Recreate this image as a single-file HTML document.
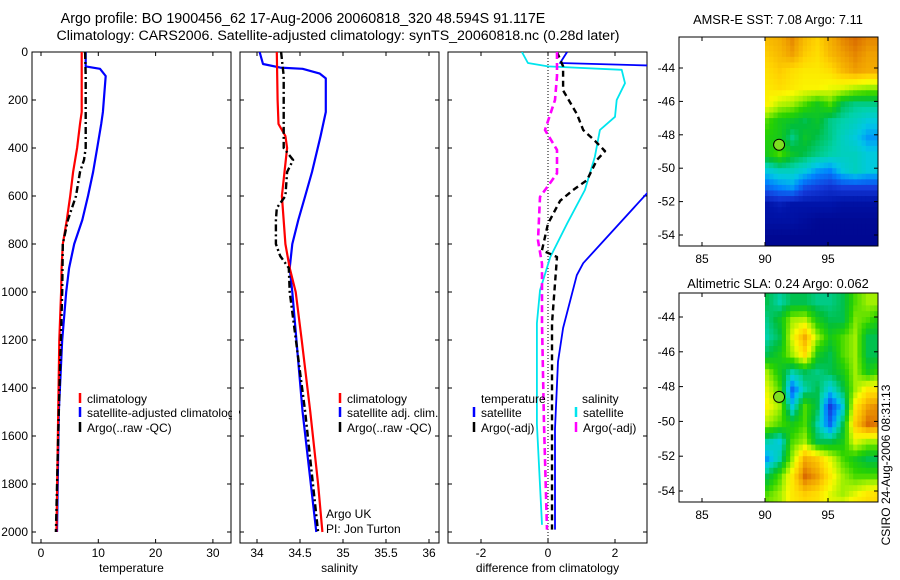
<!DOCTYPE html>
<html><head><meta charset="utf-8"><style>
body{margin:0;background:#fff}
svg{display:block;font-family:"Liberation Sans",sans-serif}
text{fill:#000}
</style></head><body>
<svg id="c" width="900" height="580" xmlns="http://www.w3.org/2000/svg">
<text x="303" y="23" font-size="14.3" text-anchor="middle">Argo profile: BO 1900456_62 17-Aug-2006 20060818_320 48.594S 91.117E</text>
<text x="338" y="40" font-size="14.2" text-anchor="middle">Climatology: CARS2006. Satellite-adjusted climatology: synTS_20060818.nc (0.28d later)</text>
<text x="778" y="24" font-size="12.8" text-anchor="middle">AMSR-E SST: 7.08 Argo: 7.11</text>
<text x="778" y="288" font-size="12.8" text-anchor="middle">Altimetric SLA: 0.24 Argo: 0.062</text>
<text transform="translate(890,465) rotate(-90)" font-size="12" text-anchor="middle">CSIRO 24-Aug-2006 08:31:13</text>
<g id="g"></g>
</svg>
<script>
// ---- data ----
const tDepth=[0,60,70,100,250,300,400,500,600,700,800,900,1000,1200,1500,2000];
const tClim=[7.1,7.1,7.1,7.1,7.1,6.8,6.3,5.6,5.1,4.5,3.8,3.6,3.5,3.2,3.0,2.7];
const tSat=[7.8,7.8,10.3,11.3,10.8,10.5,9.8,9.1,8.2,7.2,5.8,4.9,4.4,3.7,3.1,2.8];
const argoDepth=[0,100,400,450,500,600,700,800,1000,1500,2000];
const tArgo=[7.7,7.8,7.8,7.5,6.8,6.1,4.7,3.8,3.7,3.1,2.6];
const sDepth=[0,200,300,350,400,600,800,900,1000,1200,1500,1800,2000];
const sClim=[34.23,34.24,34.25,34.33,34.35,34.29,34.33,34.38,34.45,34.52,34.62,34.71,34.76];
const sArgoDepth=[0,100,400,450,500,600,650,700,800,850,900,1000,1500,2000];
const sArgo=[34.28,34.31,34.31,34.42,34.35,34.33,34.23,34.22,34.22,34.27,34.37,34.38,34.56,34.71];
const sSatDepth=[0,50,65,70,90,110,250,350,500,600,700,800,900,1000,1500,2000];
const sSat=[34.03,34.07,34.27,34.53,34.73,34.8,34.8,34.74,34.64,34.56,34.48,34.41,34.38,34.41,34.53,34.69];
const dTSatDepth=[0,46,60,100,400,588,880,930,1150,1290,1570,1990];
const dTSat=[0.57,0.36,4.0,4.2,3.6,2.96,1.05,0.86,0.45,0.3,0.21,0.21];
const dSSatDepth=[0,46,60,74,130,200,270,325,436,575,715,854,993,1130,1550,1970];
const dSSat=[-0.78,-0.6,0,2.2,2.3,2.05,2.0,1.55,1.4,1.1,0.57,0.07,-0.24,-0.33,-0.33,-0.18];
const dTArgoDepth=[0,60,160,260,325,370,413,450,534,575,620,715,826,854,1130,1990];
const dTArgo=[0.27,0.45,0.45,0.87,1.05,1.4,1.7,1.46,1.16,0.75,0.36,0,-0.18,0.27,0.12,0.12];
const dSArgoDepth=[0,100,200,325,408,506,604,785,882,1130,1550,1990];
const dSArgo=[0.27,0.27,0.21,-0.09,0.27,0.27,-0.24,-0.3,-0.18,-0.18,-0.12,-0.03];
const depthTicks=[0,200,400,600,800,1000,1200,1400,1600,1800,2000];
const tTicks=[0,10,20,30];
const sTicks=[34,34.5,35,35.5,36];
const dTicks=[-2,0,2];
const latTicks=[-44,-46,-48,-50,-52,-54];
const lonTicks=[85,90,95];
const mapLon=[90,91,92,93,94,95,96,97,98,99];
const mapLat=[-42,-43,-44,-45,-46,-47,-48,-49,-50,-51,-52,-53,-54,-55];
const sstGrid=[
[0.78,0.8,0.85,0.78,0.74,0.8,0.85,0.88,0.85,0.85],
[0.75,0.78,0.82,0.75,0.72,0.78,0.82,0.85,0.82,0.82],
[0.72,0.75,0.72,0.7,0.7,0.72,0.78,0.82,0.8,0.8],
[0.7,0.72,0.7,0.68,0.68,0.66,0.65,0.62,0.6,0.6],
[0.68,0.62,0.6,0.55,0.5,0.55,0.45,0.42,0.42,0.42],
[0.55,0.5,0.48,0.45,0.48,0.42,0.4,0.38,0.35,0.35],
[0.52,0.5,0.42,0.48,0.45,0.42,0.38,0.35,0.3,0.3],
[0.5,0.55,0.48,0.45,0.42,0.4,0.38,0.38,0.35,0.35],
[0.35,0.38,0.38,0.35,0.3,0.28,0.35,0.38,0.35,0.35],
[0.25,0.28,0.3,0.22,0.2,0.18,0.2,0.2,0.2,0.2],
[0.12,0.14,0.12,0.12,0.12,0.12,0.1,0.1,0.1,0.1],
[0.1,0.1,0.1,0.08,0.06,0.06,0.06,0.06,0.06,0.06],
[0.05,0.05,0.05,0.05,0.05,0.05,0.05,0.05,0.05,0.05],
[0.05,0.05,0.05,0.05,0.05,0.05,0.05,0.05,0.05,0.05]];
const slaGrid=[
[0.45,0.42,0.45,0.45,0.42,0.42,0.45,0.55,0.6,0.6],
[0.45,0.4,0.45,0.45,0.42,0.42,0.45,0.55,0.6,0.6],
[0.42,0.48,0.6,0.62,0.5,0.45,0.45,0.58,0.55,0.5],
[0.4,0.45,0.65,0.8,0.6,0.5,0.55,0.6,0.45,0.45],
[0.45,0.5,0.6,0.72,0.5,0.45,0.55,0.6,0.45,0.45],
[0.6,0.5,0.4,0.45,0.42,0.45,0.5,0.6,0.5,0.55],
[0.65,0.55,0.25,0.4,0.45,0.35,0.45,0.6,0.7,0.7],
[0.68,0.6,0.35,0.55,0.45,0.2,0.35,0.7,0.82,0.85],
[0.6,0.55,0.5,0.55,0.4,0.25,0.45,0.75,0.88,0.85],
[0.4,0.35,0.55,0.6,0.45,0.45,0.5,0.65,0.6,0.6],
[0.3,0.4,0.6,0.8,0.75,0.65,0.55,0.5,0.45,0.45],
[0.45,0.55,0.7,0.88,0.82,0.7,0.6,0.55,0.55,0.55],
[0.55,0.6,0.7,0.75,0.72,0.65,0.6,0.65,0.7,0.72],
[0.6,0.6,0.7,0.7,0.7,0.65,0.7,0.75,0.75,0.75]];
const argoLon=91.117, argoLat=-48.594;

// ---- drawing ----
const NS='http://www.w3.org/2000/svg';
const G=document.getElementById('g');
function el(tag,attrs,parent){const e=document.createElementNS(NS,tag);for(const k in attrs)e.setAttribute(k,attrs[k]);(parent||G).appendChild(e);return e;}
function txt(x,y,s,size,anchor,parent){const t=el('text',{x:x,y:y,'font-size':size,'text-anchor':anchor||'start'},parent);t.textContent=s;return t;}
const Y0=52,Y1=543;
const yD=d=>Y0+d*0.24;
function panel(name,x0,x1,xs,ticks,label){
  const clip=el('clipPath',{id:'clip-'+name});el('rect',{x:x0,y:Y0,width:x1-x0,height:Y1-Y0},clip);
  const fr=el('rect',{x:x0,y:Y0,width:x1-x0,height:Y1-Y0,fill:'none',stroke:'#000','stroke-width':1});
  
  
  depthTicks.forEach(d=>{el('line',{x1:x0,y1:yD(d),x2:x0+4,y2:yD(d),stroke:'#000'});el('line',{x1:x1,y1:yD(d),x2:x1-4,y2:yD(d),stroke:'#000'});});
  ticks.forEach(v=>{const x=xs(v);el('line',{x1:x,y1:Y1,x2:x,y2:Y1-4,stroke:'#000'});el('line',{x1:x,y1:Y0,x2:x,y2:Y0+4,stroke:'#000'});const t=txt(x,Y1+14,String(v),12,'middle');});
  const t=txt((x0+x1)/2,572,label,12,'middle');
  
  
  return 'url(#clip-'+name+')';
}
function line(nm,depths,vals,xs,color,w,dash,clip){
  const pts=depths.map((d,i)=>xs(vals[i]).toFixed(1)+','+yD(d).toFixed(1)).join(' ');
  const p=el('polyline',{points:pts,fill:'none',stroke:color,'stroke-width':w,'stroke-linejoin':'round','clip-path':clip});
  if(dash)p.setAttribute('stroke-dasharray',dash);
  
  
}
// panel 1
const xT=v=>41+v*5.73;
const c1=panel('temperature-panel',32,231,xT,tTicks,'temperature');
depthTicks.forEach(d=>{const t=txt(28,yD(d)+4,String(d),12,'end');});
line('temp-satellite-line',tDepth,tSat,xT,'#0000ff',2.2,null,c1);
line('temp-climatology-line',tDepth,tClim,xT,'#ff0000',2.2,null,c1);
line('temp-argo-line',argoDepth,tArgo,xT,'#000',2.4,'7,3,2,3',c1);
// panel 2
const xS=v=>257+(v-34)*86;
const c2=panel('salinity-panel',240,439,xS,sTicks,'salinity');
line('sal-satellite-line',sSatDepth,sSat,xS,'#0000ff',2.2,null,c2);
line('sal-climatology-line',sDepth,sClim,xS,'#ff0000',2.2,null,c2);
line('sal-argo-line',sArgoDepth,sArgo,xS,'#000',2.4,'7,3,2,3',c2);
// panel 3
const xDf=v=>548+v*33.5;
const c3=panel('difference-panel',448,647,xDf,dTicks,'difference from climatology');
const z=el('line',{x1:xDf(0),y1:Y0,x2:xDf(0),y2:Y1,stroke:'#000','stroke-dasharray':'1,2'});


line('diff-temp-satellite-line',dTSatDepth,dTSat,xDf,'#0000ff',1.8,null,c3);
line('diff-sal-satellite-line',dSSatDepth,dSSat,xDf,'#00e5ee',1.8,null,c3);
line('diff-temp-argo-line',dTArgoDepth,dTArgo,xDf,'#000',2.4,'6,4',c3);
line('diff-sal-argo-line',dSArgoDepth,dSArgo,xDf,'#ff00ff',2.6,'7,4',c3);
// legends
function leg(nm,x,y,color,label){
  const g=el('g',{});
  
  
  el('line',{x1:x,y1:y-10,x2:x,y2:y,stroke:color,'stroke-width':2.5},g);
  txt(x+7,y,label,12,'start',g);
}
leg('legend-climatology',80,403,'#ff0000','climatology');
leg('legend-satellite-adjusted',80,417,'#0000ff','satellite-adjusted climatology');
leg('legend-argo',80,432,'#000','Argo(..raw -QC)');
leg('legend2-climatology',340,403,'#ff0000','climatology');
leg('legend2-satellite',340,417,'#0000ff','satellite adj. clim.');
leg('legend2-argo',340,432,'#000','Argo(..raw -QC)');
txt(481,403,'temperature',12);txt(582,403,'salinity',12);
leg('legend3-temp-satellite',474,417,'#0000ff','satellite');
leg('legend3-temp-argo',474,432,'#000','Argo(-adj)');
leg('legend3-sal-satellite',576,417,'#00e5ee','satellite');
leg('legend3-sal-argo',576,432,'#ff00ff','Argo(-adj)');
el('rect',{x:232,y:380,width:7,height:60,fill:'#fff'});
txt(326,518,'Argo UK',12);txt(326,533,'PI: Jon Turton',12);
// colormap
const cmStops=[[0,[0,0,128]],[0.12,[0,20,170]],[0.2,[20,60,220]],[0.28,[0,130,255]],[0.34,[0,200,230]],[0.4,[0,210,170]],[0.46,[0,190,60]],[0.53,[40,210,0]],[0.6,[160,240,0]],[0.67,[250,250,0]],[0.74,[255,210,0]],[0.82,[240,160,0]],[0.9,[210,90,0]],[1,[150,10,0]]];
function cmap(v){v=Math.max(0,Math.min(1,v));
  for(let i=1;i<cmStops.length;i++){if(v<=cmStops[i][0]){const a=cmStops[i-1],b=cmStops[i],f=(v-a[0])/(b[0]-a[0]);
    return 'rgb('+a[1].map((c,k)=>Math.round(c+(b[1][k]-c)*f)).join(',')+')';}}
  return 'rgb(150,10,0)';}
function sample(grid,fi,fj){
  const i0=Math.max(0,Math.min(grid.length-1,Math.floor(fi))),i1=Math.min(grid.length-1,i0+1);
  const j0=Math.max(0,Math.min(grid[0].length-1,Math.floor(fj))),j1=Math.min(grid[0].length-1,j0+1);
  const a=Math.max(0,Math.min(1,fi-i0)),b=Math.max(0,Math.min(1,fj-j0));
  return grid[i0][j0]*(1-a)*(1-b)+grid[i0][j1]*(1-a)*b+grid[i1][j0]*a*(1-b)+grid[i1][j1]*a*b;
}
function map(nm,top,frameBot,latTop,latBot,grid){
  const mx0=679,mx1=878;
  const xL=lon=>765+(lon-90)*12.6;
  const dy=(latBot-latTop)/10;
  const yL=lat=>latTop+(-44-lat)*dy;
  const clip=el('clipPath',{id:'clip-'+nm});el('rect',{x:mx0,y:top,width:mx1-mx0,height:frameBot-top},clip);
  const g=el('g',{'clip-path':'url(#clip-'+nm+')'});
  
  
  const sub=3;
  for(let i=0;i<(mapLat.length-1)*sub;i++){for(let j=0;j<(mapLon.length-1)*sub;j++){
    const fi=i/sub,fj=j/sub;
    const lat=mapLat[0]-fi,lon=mapLon[0]+fj;
    const r=el('rect',{x:(xL(lon)).toFixed(2),y:(yL(lat)).toFixed(2),width:(12.6/sub+0.4).toFixed(2),height:(dy/sub+0.4).toFixed(2),fill:cmap(sample(grid,fi,fj))},g);
    
    
  }}
  el('rect',{x:mx0,y:top,width:mx1-mx0,height:frameBot-top,fill:'none',stroke:'#000'});
  latTicks.forEach(l=>{const y=yL(l);el('line',{x1:mx0,y1:y,x2:mx0+4,y2:y,stroke:'#000'});el('line',{x1:mx1,y1:y,x2:mx1-4,y2:y,stroke:'#000'});
    const t=txt(mx0-4,y+4,String(l),12,'end');});
  lonTicks.forEach(l=>{const x=xL(l);el('line',{x1:x,y1:frameBot,x2:x,y2:frameBot-4,stroke:'#000'});el('line',{x1:x,y1:top,x2:x,y2:top+4,stroke:'#000'});
    const t=txt(x,frameBot+17,String(l),12,'middle');});
  const c=el('circle',{cx:xL(argoLon),cy:yL(argoLat),r:5.5,fill:'#7fdf20',stroke:'#000'});
  
  
}
map('sst-map',37,246,68,235,sstGrid);
map('sla-map',293,502,317,491,slaGrid);
</script>
</body></html>
